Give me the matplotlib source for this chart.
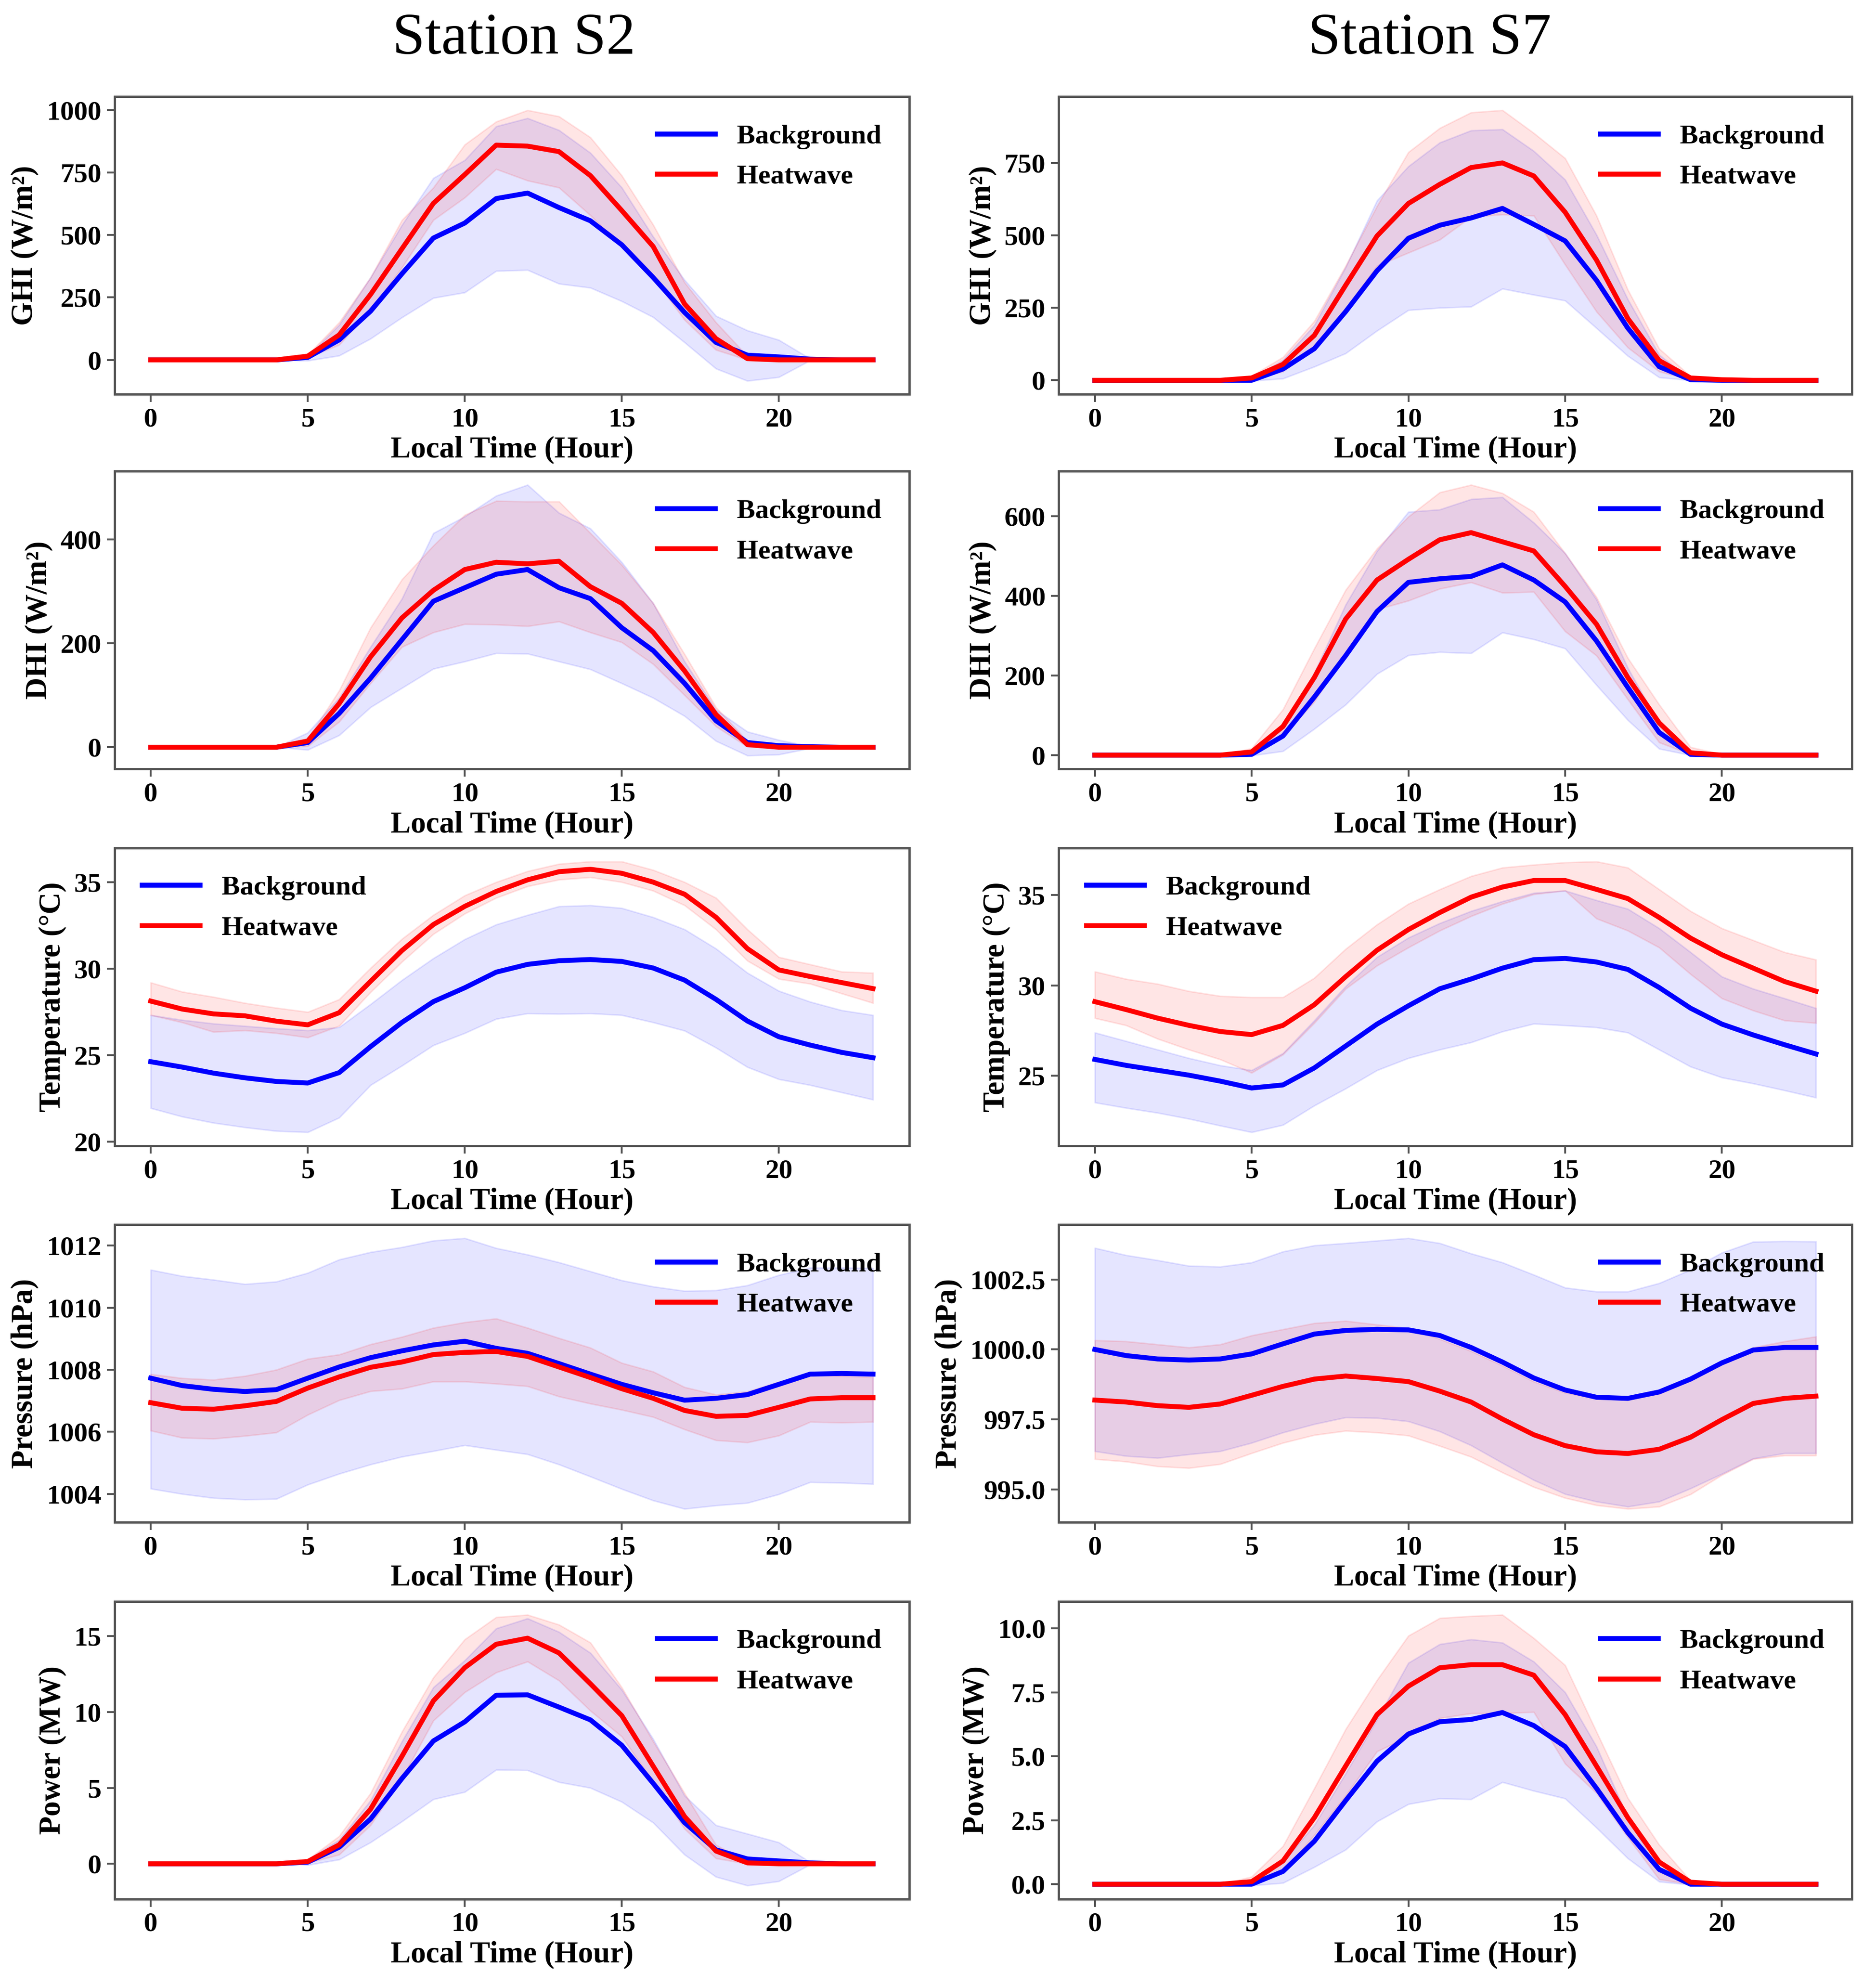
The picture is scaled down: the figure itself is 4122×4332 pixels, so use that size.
import numpy as np
import matplotlib
matplotlib.use('Agg')
import matplotlib.pyplot as plt

HOURS = list(range(24))

# ---- Station S2 ----
S2_GHI_BG = [0, 0, 0, 0, 0, 10, 80, 195, 345, 488, 548, 646, 668, 610, 557, 461, 330, 190, 70, 19, 12, 3, 0, 0]
S2_GHI_BG_LO = [0, 0, 0, 0, 0, -3, 17, 85, 170, 248, 270, 356, 360, 305, 289, 235, 171, 70, -35, -84, -69, -2, 0, 0]
S2_GHI_BG_HI = [0, 0, 0, 0, 0, 15, 140, 330, 540, 728, 800, 935, 968, 920, 829, 690, 493, 320, 176, 118, 80, 5, 0, 0]
S2_GHI_HW = [0, 0, 0, 0, 0, 15, 100, 262, 445, 627, 742, 860, 856, 834, 738, 598, 454, 224, 85, 5, 0, 0, 0, 0]
S2_GHI_HW_LO = [0, 0, 0, 0, 0, 10, 60, 200, 370, 560, 650, 764, 718, 690, 579, 454, 330, 160, 40, 0, 0, 0, 0, 0]
S2_GHI_HW_HI = [0, 0, 0, 0, 0, 20, 150, 330, 560, 690, 862, 954, 1000, 975, 891, 738, 541, 310, 150, 15, 0, 0, 0, 0]

S2_DHI_BG = [0, 0, 0, 0, 0, 9, 65, 133, 207, 281, 307, 333, 342, 307, 286, 230, 186, 123, 51, 9, 3, 1, 0, 0]
S2_DHI_BG_LO = [0, 0, 0, 0, 0, -5, 23, 77, 114, 151, 165, 181, 180, 165, 150, 123, 95, 60, 12, -16, -14, -2, 0, 0]
S2_DHI_BG_HI = [0, 0, 0, 0, 0, 28, 95, 193, 286, 412, 444, 484, 505, 451, 421, 356, 277, 165, 72, 30, 14, 2, 0, 0]
S2_DHI_HW = [0, 0, 0, 0, 0, 12, 84, 174, 249, 302, 342, 356, 353, 358, 309, 277, 221, 147, 63, 5, 0, 0, 0, 0]
S2_DHI_HW_LO = [0, 0, 0, 0, 0, 2, 49, 123, 193, 221, 237, 236, 233, 242, 221, 202, 160, 100, 40, 1, 0, 0, 0, 0]
S2_DHI_HW_HI = [0, 0, 0, 0, 0, 16, 109, 230, 323, 388, 447, 474, 473, 473, 412, 351, 277, 179, 77, 12, 2, 0, 0, 0]

S2_TEMP_BG = [24.63, 24.32, 23.97, 23.70, 23.49, 23.40, 24.00, 25.50, 26.90, 28.10, 28.90, 29.80,
              30.25, 30.46, 30.53, 30.42, 30.04, 29.34, 28.23, 26.98, 26.07, 25.59, 25.17, 24.86]
S2_TEMP_BG_LO = [21.95, 21.46, 21.10, 20.84, 20.63, 20.56, 21.40, 23.28, 24.40, 25.58, 26.28, 27.10,
                 27.42, 27.39, 27.42, 27.32, 26.90, 26.42, 25.44, 24.32, 23.62, 23.28, 22.86, 22.44]
S2_TEMP_BG_HI = [27.32, 27.04, 26.83, 26.69, 26.55, 26.44, 26.62, 27.95, 29.34, 30.60, 31.70, 32.55,
                 33.10, 33.60, 33.66, 33.50, 32.97, 32.27, 31.16, 29.76, 28.72, 28.09, 27.60, 27.32]
S2_TEMP_HW = [28.13, 27.67, 27.39, 27.28, 26.97, 26.76, 27.46, 29.27, 31.05, 32.55, 33.60, 34.46,
              35.13, 35.60, 35.74, 35.51, 35.00, 34.30, 32.97, 31.16, 29.93, 29.55, 29.20, 28.85]
S2_TEMP_HW_LO = [27.32, 26.90, 26.35, 26.44, 26.28, 26.03, 26.70, 28.65, 30.40, 32.00, 33.18, 34.09,
                 34.76, 35.14, 35.28, 35.00, 34.50, 33.66, 32.27, 30.46, 29.41, 29.13, 28.57, 28.02]
S2_TEMP_HW_HI = [29.20, 28.67, 28.37, 28.02, 27.74, 27.50, 28.23, 30.04, 31.72, 33.10, 34.23, 35.00,
                 35.63, 36.05, 36.19, 36.19, 35.70, 35.00, 34.09, 32.27, 30.67, 30.25, 29.83, 29.76]

S2_PRES_BG = [1007.73, 1007.49, 1007.37, 1007.30, 1007.36, 1007.73, 1008.09, 1008.39, 1008.61, 1008.80,
              1008.92, 1008.69, 1008.53, 1008.20, 1007.86, 1007.53, 1007.26, 1007.02, 1007.08, 1007.20,
              1007.53, 1007.86, 1007.88, 1007.86]
S2_PRES_BG_LO = [1004.17, 1004.00, 1003.87, 1003.82, 1003.84, 1004.30, 1004.65, 1004.95, 1005.20, 1005.38,
                 1005.57, 1005.42, 1005.28, 1004.95, 1004.56, 1004.16, 1003.79, 1003.52, 1003.63, 1003.71,
                 1003.99, 1004.38, 1004.36, 1004.32]
S2_PRES_BG_HI = [1011.22, 1011.02, 1010.90, 1010.76, 1010.84, 1011.12, 1011.55, 1011.79, 1011.95, 1012.16,
                 1012.24, 1011.92, 1011.71, 1011.46, 1011.17, 1010.88, 1010.68, 1010.54, 1010.56, 1010.72,
                 1011.05, 1011.29, 1011.29, 1011.27]
S2_PRES_HW = [1006.94, 1006.76, 1006.73, 1006.84, 1006.98, 1007.41, 1007.77, 1008.08, 1008.25, 1008.49,
              1008.56, 1008.59, 1008.43, 1008.09, 1007.75, 1007.39, 1007.08, 1006.69, 1006.50, 1006.53,
              1006.79, 1007.06, 1007.10, 1007.10]
S2_PRES_HW_LO = [1006.04, 1005.81, 1005.78, 1005.87, 1005.98, 1006.55, 1007.02, 1007.31, 1007.39, 1007.62,
                 1007.62, 1007.55, 1007.47, 1007.14, 1006.91, 1006.71, 1006.48, 1006.08, 1005.73, 1005.66,
                 1005.88, 1006.32, 1006.30, 1006.32]
S2_PRES_HW_HI = [1007.86, 1007.73, 1007.68, 1007.80, 1008.00, 1008.35, 1008.49, 1008.82, 1009.06, 1009.35,
                 1009.53, 1009.65, 1009.35, 1009.02, 1008.71, 1008.22, 1007.94, 1007.44, 1007.20, 1007.30,
                 1007.61, 1007.84, 1007.80, 1007.76]

S2_POW_BG = [0, 0, 0, 0, 0, 0.11, 1.09, 2.95, 5.62, 8.09, 9.35, 11.10, 11.13, 10.32, 9.48, 7.81,
             5.30, 2.71, 0.92, 0.32, 0.19, 0.06, 0, 0]
S2_POW_BG_LO = [0, 0, 0, 0, 0, -0.08, 0.28, 1.41, 2.79, 4.25, 4.73, 6.19, 6.16, 5.38, 5.00, 4.08,
                2.71, 0.60, -0.86, -1.43, -1.15, -0.05, 0, 0]
S2_POW_BG_HI = [0, 0, 0, 0, 0, 0.28, 1.57, 4.17, 8.06, 11.62, 13.40, 15.50, 16.16, 15.27, 13.89, 11.46,
                8.22, 4.49, 2.54, 1.98, 1.41, 0.11, 0, 0]
S2_POW_HW = [0, 0, 0, 0, 0, 0.15, 1.25, 3.60, 7.08, 10.73, 12.92, 14.46, 14.86, 13.89, 11.86, 9.76,
             6.43, 3.11, 0.84, 0.06, 0, 0, 0, 0]
S2_POW_HW_LO = [0, 0, 0, 0, 0, 0.06, 0.60, 2.54, 5.62, 9.43, 11.30, 12.60, 13.32, 12.07, 10.08, 8.38,
                5.38, 2.30, 0.36, 0, 0, 0, 0, 0]
S2_POW_HW_HI = [0, 0, 0, 0, 0, 0.28, 1.82, 4.65, 8.70, 12.27, 14.78, 16.24, 16.40, 15.75, 14.57, 11.62,
                8.06, 4.65, 1.25, 0.11, 0, 0, 0, 0]

# ---- Station S7 ----
S7_GHI_BG = [0, 0, 0, 0, 0, 0, 39, 109, 237, 378, 490, 535, 560, 593, 538, 481, 345, 180, 47, 2, 0, 0, 0, 0]
S7_GHI_BG_LO = [0, 0, 0, 0, 0, -2, 6, 47, 93, 171, 242, 250, 254, 316, 295, 275, 180, 84, 10, 0, 0, 0, 0, 0]
S7_GHI_BG_HI = [0, 0, 0, 0, 0, 5, 70, 190, 390, 620, 738, 820, 862, 866, 791, 692, 502, 279, 88, 2, 0, 0, 0, 0]
S7_GHI_HW = [0, 0, 0, 0, 0, 8, 55, 155, 328, 498, 610, 676, 734, 750, 705, 580, 415, 213, 68, 8, 2, 0, 0, 0]
S7_GHI_HW_LO = [0, 0, 0, 0, 0, 2, 30, 113, 245, 395, 440, 485, 564, 572, 568, 399, 237, 113, 30, 2, 0, 0, 0, 0]
S7_GHI_HW_HI = [0, 0, 0, 0, 0, 15, 80, 204, 395, 601, 787, 870, 924, 932, 853, 766, 568, 312, 109, 14, 0, 0, 0, 0]

S7_DHI_BG = [0, 0, 0, 0, 0, 2, 48, 146, 250, 361, 434, 443, 449, 478, 440, 385, 287, 170, 57, 2, 0, 0, 0, 0]
S7_DHI_BG_LO = [0, 0, 0, 0, 0, -1, 10, 66, 127, 204, 251, 259, 256, 308, 291, 268, 176, 88, 16, 0, 0, 0, 0, 0]
S7_DHI_BG_HI = [0, 0, 0, 0, 0, 8, 72, 207, 378, 513, 611, 617, 643, 648, 584, 507, 391, 219, 78, 4, 0, 0, 0, 0]
S7_DHI_HW = [0, 0, 0, 0, 0, 8, 72, 195, 342, 440, 492, 541, 559, 536, 513, 424, 329, 195, 81, 6, 0, 0, 0, 0]
S7_DHI_HW_LO = [0, 0, 0, 0, 0, 4, 48, 134, 256, 366, 388, 418, 434, 408, 410, 311, 250, 140, 32, 2, 0, 0, 0, 0]
S7_DHI_HW_HI = [0, 0, 0, 0, 0, 17, 115, 268, 415, 519, 599, 660, 679, 658, 611, 507, 397, 244, 127, 20, 2, 0, 0, 0]

S7_TEMP_BG = [25.91, 25.58, 25.31, 25.04, 24.71, 24.33, 24.50, 25.44, 26.65, 27.86, 28.87, 29.81,
              30.35, 30.95, 31.42, 31.49, 31.29, 30.88, 29.88, 28.74, 27.86, 27.26, 26.72, 26.21]
S7_TEMP_BG_LO = [23.53, 23.23, 22.96, 22.63, 22.25, 21.89, 22.29, 23.36, 24.30, 25.31, 25.98, 26.45,
                 26.85, 27.45, 27.88, 27.79, 27.68, 27.39, 26.45, 25.51, 24.91, 24.58, 24.20, 23.80]
S7_TEMP_BG_HI = [27.39, 26.92, 26.45, 25.98, 25.58, 25.31, 26.25, 28.06, 29.95, 31.56, 32.63, 33.43,
                 34.10, 34.64, 35.10, 35.23, 34.70, 34.22, 33.15, 31.83, 30.48, 29.81, 29.28, 28.74]
S7_TEMP_HW = [29.10, 28.66, 28.19, 27.79, 27.45, 27.28, 27.79, 28.93, 30.48, 31.94, 33.08, 34.02,
              34.87, 35.43, 35.79, 35.79, 35.30, 34.79, 33.75, 32.61, 31.69, 30.95, 30.21, 29.68]
S7_TEMP_HW_LO = [28.19, 27.79, 27.05, 26.45, 25.91, 25.17, 26.18, 27.92, 29.81, 31.09, 32.09, 33.02,
                 33.82, 34.50, 35.03, 35.23, 33.69, 33.02, 32.09, 30.62, 29.28, 28.61, 28.06, 27.92]
S7_TEMP_HW_HI = [30.76, 30.35, 30.08, 29.68, 29.41, 29.34, 29.34, 30.41, 32.01, 33.36, 34.50, 35.30,
                 36.03, 36.50, 36.66, 36.79, 36.84, 36.50, 35.30, 34.10, 33.15, 32.49, 31.83, 31.42]

S7_PRES_BG = [1000.00, 999.78, 999.66, 999.62, 999.66, 999.84, 1000.20, 1000.55, 1000.68, 1000.72,
              1000.70, 1000.50, 1000.07, 999.55, 998.98, 998.55, 998.29, 998.25, 998.48, 998.94,
              999.52, 999.98, 1000.07, 1000.07]
S7_PRES_BG_LO = [996.36, 996.19, 996.12, 996.25, 996.36, 996.66, 997.03, 997.33, 997.57, 997.55,
                 997.43, 997.07, 996.57, 995.94, 995.33, 994.83, 994.56, 994.38, 994.56, 995.03,
                 995.55, 996.10, 996.29, 996.29]
S7_PRES_BG_HI = [1003.63, 1003.37, 1003.19, 1002.99, 1002.96, 1003.11, 1003.50, 1003.72, 1003.80, 1003.89,
                 1003.98, 1003.80, 1003.43, 1003.11, 1002.67, 1002.21, 1002.07, 1002.07, 1002.37, 1002.85,
                 1003.46, 1003.85, 1003.87, 1003.86]
S7_PRES_HW = [998.19, 998.12, 997.99, 997.93, 998.05, 998.36, 998.68, 998.94, 999.05, 998.96,
              998.85, 998.51, 998.12, 997.51, 996.95, 996.56, 996.34, 996.28, 996.43, 996.86,
              997.49, 998.07, 998.25, 998.33]
S7_PRES_HW_LO = [996.08, 995.99, 995.82, 995.76, 995.90, 996.29, 996.66, 996.94, 997.09, 997.03,
                 996.92, 996.55, 996.16, 995.60, 995.08, 994.69, 994.43, 994.30, 994.38, 994.82,
                 995.51, 996.08, 996.21, 996.21]
S7_PRES_HW_HI = [1000.33, 1000.29, 1000.18, 1000.07, 1000.18, 1000.50, 1000.72, 1000.94, 1001.02, 1000.89,
                 1000.76, 1000.37, 999.94, 999.42, 998.85, 998.45, 998.25, 998.22, 998.42, 998.90,
                 999.52, 1000.07, 1000.29, 1000.46]

S7_POW_BG = [0, 0, 0, 0, 0, 0, 0.50, 1.68, 3.27, 4.81, 5.87, 6.35, 6.44, 6.71, 6.20, 5.38,
             3.75, 2.02, 0.58, 0, 0, 0, 0, 0]
S7_POW_BG_LO = [0, 0, 0, 0, 0, -0.05, 0.05, 0.67, 1.35, 2.45, 3.13, 3.35, 3.32, 3.99, 3.65, 3.35,
                2.21, 1.01, 0.10, -0.02, 0, 0, 0, 0]
S7_POW_BG_HI = [0, 0, 0, 0, 0, 0.10, 0.87, 2.31, 4.33, 6.44, 8.65, 9.38, 9.57, 9.44, 8.70, 7.50,
                5.38, 2.60, 0.48, 0, 0, 0, 0, 0]
S7_POW_HW = [0, 0, 0, 0, 0, 0.10, 0.91, 2.60, 4.62, 6.63, 7.74, 8.46, 8.58, 8.58, 8.17, 6.63,
             4.62, 2.60, 0.87, 0.08, 0, 0, 0, 0]
S7_POW_HW_LO = [0, 0, 0, 0, 0, 0.05, 0.48, 1.92, 3.46, 5.19, 5.77, 6.49, 6.68, 6.68, 6.73, 4.71,
                3.56, 1.83, 0.19, 0, 0, 0, 0, 0]
S7_POW_HW_HI = [0, 0, 0, 0, 0, 0.29, 1.49, 3.75, 6.06, 7.98, 9.71, 10.40, 10.48, 10.53, 9.62, 8.56,
                5.96, 3.37, 1.54, 0.14, 0, 0, 0, 0]

STATIONS = ["Station S2", "Station S7"]
YLABELS = ["GHI (W/m²)", "DHI (W/m²)", "Temperature (°C)", "Pressure (hPa)", "Power (MW)"]
LEGEND_LOC = ["upper right", "upper right", "upper left", "upper right", "upper right"]

PANELS = [
    [(S2_GHI_BG, S2_GHI_BG_LO, S2_GHI_BG_HI, S2_GHI_HW, S2_GHI_HW_LO, S2_GHI_HW_HI),
     (S7_GHI_BG, S7_GHI_BG_LO, S7_GHI_BG_HI, S7_GHI_HW, S7_GHI_HW_LO, S7_GHI_HW_HI)],
    [(S2_DHI_BG, S2_DHI_BG_LO, S2_DHI_BG_HI, S2_DHI_HW, S2_DHI_HW_LO, S2_DHI_HW_HI),
     (S7_DHI_BG, S7_DHI_BG_LO, S7_DHI_BG_HI, S7_DHI_HW, S7_DHI_HW_LO, S7_DHI_HW_HI)],
    [(S2_TEMP_BG, S2_TEMP_BG_LO, S2_TEMP_BG_HI, S2_TEMP_HW, S2_TEMP_HW_LO, S2_TEMP_HW_HI),
     (S7_TEMP_BG, S7_TEMP_BG_LO, S7_TEMP_BG_HI, S7_TEMP_HW, S7_TEMP_HW_LO, S7_TEMP_HW_HI)],
    [(S2_PRES_BG, S2_PRES_BG_LO, S2_PRES_BG_HI, S2_PRES_HW, S2_PRES_HW_LO, S2_PRES_HW_HI),
     (S7_PRES_BG, S7_PRES_BG_LO, S7_PRES_BG_HI, S7_PRES_HW, S7_PRES_HW_LO, S7_PRES_HW_HI)],
    [(S2_POW_BG, S2_POW_BG_LO, S2_POW_BG_HI, S2_POW_HW, S2_POW_HW_LO, S2_POW_HW_HI),
     (S7_POW_BG, S7_POW_BG_LO, S7_POW_BG_HI, S7_POW_HW, S7_POW_HW_LO, S7_POW_HW_HI)],
]

plt.rcParams['font.family'] = ['Liberation Serif', 'DejaVu Serif']

fig = plt.figure(figsize=(4122 / 300, 4332 / 300), dpi=300)

col_x = [(0.0611, 0.4235), (0.5644, 0.4228)]
row_y = [0.800, 0.610, 0.419, 0.228, 0.037]
row_h = 0.151
title_x = [0.274, 0.762]
edge = '#555555'

x = np.array(HOURS)
for r in range(5):
    for c in range(2):
        bg, bg_lo, bg_hi, hw, hw_lo, hw_hi = [np.array(a, dtype=float) for a in PANELS[r][c]]
        ax = fig.add_axes([col_x[c][0], row_y[r], col_x[c][1], row_h])
        ax.plot(x, bg, color='blue', lw=2.6, label='Background', zorder=3)
        ax.fill_between(x, bg_lo, bg_hi, color='blue', alpha=0.1, lw=0.8)
        ax.plot(x, hw, color='red', lw=2.6, label='Heatwave', zorder=4)
        ax.fill_between(x, hw_lo, hw_hi, color='red', alpha=0.1, lw=0.8)

        ax.set_xticks([0, 5, 10, 15, 20])
        ax.set_xlabel("Local Time (Hour)", fontsize=16, fontweight='bold', labelpad=2)
        ax.set_ylabel(YLABELS[r], fontsize=16, fontweight='bold', labelpad=4)
        ax.tick_params(labelsize=14.5, color=edge, width=1.0, length=4, pad=3)
        for lab in ax.get_xticklabels() + ax.get_yticklabels():
            lab.set_fontweight('bold')
        for sp in ax.spines.values():
            sp.set_color(edge)
            sp.set_linewidth(1.2)

        ax.legend(loc=LEGEND_LOC[r], frameon=False, prop={'size': 14.5, 'weight': 'bold'},
                  handlelength=2.1, labelspacing=0.55, borderaxespad=0.6)

for c in range(2):
    fig.text(title_x[c], 0.980, STATIONS[c], fontsize=31, ha='center', va='center')

fig.savefig("out.png", dpi=300)
plt.close(fig)
